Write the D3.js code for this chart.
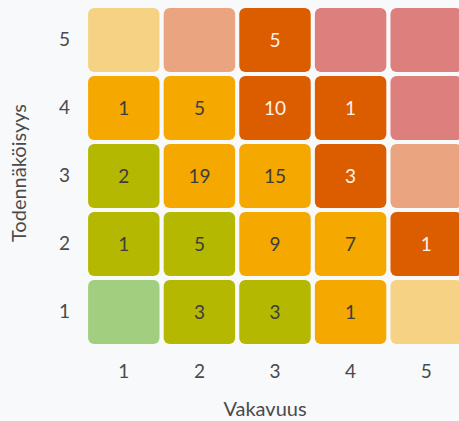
<!DOCTYPE html>
<html>
<head>
<meta charset="utf-8">
<script src="https://cdn.jsdelivr.net/npm/d3@7"></script>
<style>
  html, body { margin: 0; padding: 0; background: #f8f9fb; }
  svg { display: block; font-family: Lato, "Open Sans", sans-serif; }
</style>
</head>
<body>
<svg id="chart" width="459" height="421"></svg>
<script>
// Severity (x) and likelihood (y) categories
const severity = [1, 2, 3, 4, 5];
const likelihood = [5, 4, 3, 2, 1];

// Counts per cell, rows by likelihood 5..1, columns by severity 1..5 (null = empty)
const counts = [
  [null, null, 5, null, null],
  [1, 5, 10, 1, null],
  [2, 19, 15, 3, null],
  [1, 5, 9, 7, 1],
  [null, 3, 3, 1, null]
];

// Risk level per cell (0 green .. 4 red)
const riskLevel = [
  [2, 3, 3, 4, 4],
  [2, 2, 3, 3, 4],
  [1, 2, 2, 3, 3],
  [1, 1, 2, 2, 3],
  [0, 1, 1, 2, 2]
];

const levelColors = ["#7fbf4a", "#b4b800", "#f5a800", "#dc5c00", "#c0392b"];
const levelFaded  = ["#a1cf7f", "#cfd27a", "#f6d285", "#eaa580", "#dd7f7c"];
const levelText   = ["#3d3d3d", "#3d3d3d", "#3d3d3d", "#fdf3e6", "#fdf3e6"];

const xTitle = "Vakavuus";
const yTitle = "Todennäköisyys";

const svg = d3.select("#chart");

const x = d3.scaleBand().domain(severity).range([86, 464]).paddingInner(0.055).paddingOuter(0.0275);
const y = d3.scaleBand().domain(likelihood).range([6, 346]).paddingInner(0.0588).paddingOuter(0.0294);

const cells = [];
likelihood.forEach((l, ri) => {
  severity.forEach((s, ci) => {
    cells.push({ s, l, count: counts[ri][ci], level: riskLevel[ri][ci] });
  });
});

const g = svg.append("g");
g.selectAll("rect.cell").data(cells).enter().append("rect")
  .attr("class", "cell")
  .attr("x", d => x(d.s))
  .attr("y", d => y(d.l))
  .attr("width", x.bandwidth())
  .attr("height", y.bandwidth())
  .attr("rx", 6).attr("ry", 6)
  .attr("fill", d => d.count == null ? levelFaded[d.level] : levelColors[d.level]);

g.selectAll("text.val").data(cells.filter(d => d.count != null)).enter().append("text")
  .attr("class", "val")
  .attr("x", d => x(d.s) + x.bandwidth() / 2)
  .attr("y", d => y(d.l) + y.bandwidth() / 2)
  .attr("text-anchor", "middle")
  .attr("dy", "0.36em")
  .attr("font-size", 19)
  .attr("fill", d => levelText[d.level])
  .text(d => d.count);

const yAxis = svg.append("g")
  .attr("transform", "translate(88,0)")
  .call(d3.axisLeft(y).tickSize(0).tickPadding(18));
const xAxis = svg.append("g")
  .attr("transform", "translate(0,346)")
  .call(d3.axisBottom(x).tickSize(0).tickPadding(19));
[xAxis, yAxis].forEach(a => {
  a.select(".domain").remove();
  a.selectAll("text").attr("font-size", 19).attr("fill", "#4a4a4a").attr("font-family", "Lato, sans-serif");
});

svg.append("text")
  .attr("x", 265).attr("y", 416)
  .attr("text-anchor", "middle")
  .attr("font-size", 20).attr("fill", "#4a4a4a")
  .text(xTitle);

svg.append("text")
  .attr("transform", "translate(26,173) rotate(-90)")
  .attr("text-anchor", "middle")
  .attr("font-size", 20).attr("fill", "#4a4a4a")
  .text(yTitle);
</script>
</body>
</html>
